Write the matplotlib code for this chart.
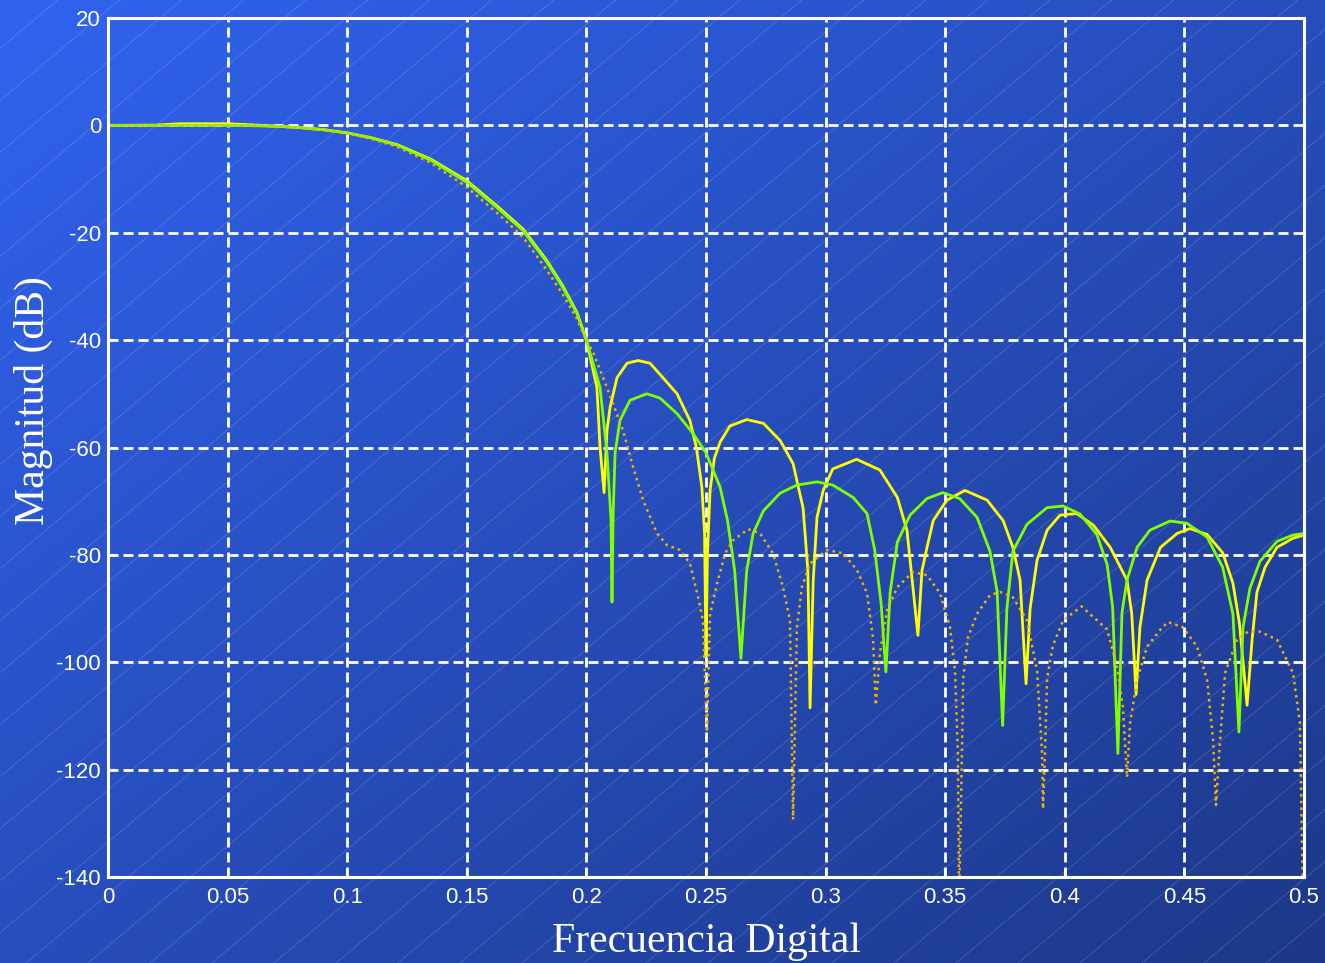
import numpy as np
import matplotlib.pyplot as plt

plt.rcParams["axes.unicode_minus"] = False

# --- data (frequency in cycles/sample, magnitude in dB) ---
freq_yellow = [0, 0.02, 0.03, 0.05, 0.06, 0.072, 0.08, 0.09, 0.1, 0.11,
               0.121, 0.135, 0.15, 0.1626, 0.1735, 0.1835, 0.19, 0.196, 0.2, 0.2044,
               0.2057, 0.2074, 0.2086, 0.2099, 0.2128, 0.217, 0.2216, 0.2266, 0.232, 0.2379,
               0.2433, 0.246, 0.2483, 0.2494, 0.25, 0.2506, 0.2517, 0.2535, 0.2559, 0.26,
               0.267, 0.274, 0.281, 0.2864, 0.2906, 0.2926, 0.2935, 0.2948, 0.2964, 0.299,
               0.303, 0.313, 0.3227, 0.33, 0.334, 0.3365, 0.3386, 0.3403, 0.3424, 0.345,
               0.3507, 0.3583, 0.3675, 0.3742, 0.3783, 0.3813, 0.3838, 0.3855, 0.3884, 0.3926,
               0.398, 0.405, 0.412, 0.419, 0.426, 0.428, 0.4298, 0.4314, 0.4344, 0.44,
               0.447, 0.4523, 0.4595, 0.466, 0.4703, 0.473, 0.4762, 0.4783, 0.4803, 0.4837,
               0.4887, 0.4954, 0.5]
mag_yellow = [0, 0.05, 0.3, 0.3, 0.1, -0.2, -0.4, -0.8, -1.4, -2.3,
              -3.6, -6.3, -10.3, -15.0, -19.3, -25.2, -29.8, -34.8, -40, -48.8,
              -60, -68.4, -56.8, -52.5, -47, -44.3, -43.8, -44.3, -47, -50,
              -55, -60, -67.5, -76, -99, -80, -68, -62, -59, -56,
              -54.8, -55.5, -58.7, -63, -71.3, -83, -108.5, -85, -73, -68,
              -64, -62.2, -64.2, -69.3, -75.4, -86, -95, -82.9, -78.6, -73.6,
              -69.8, -68, -69.8, -73.6, -78.6, -84.7, -104, -90, -81, -75.4,
              -72.6, -72.3, -74.5, -78.6, -84.7, -91, -106, -93.5, -84.7, -78.6,
              -76, -75.1, -76.2, -79.6, -85.3, -92.7, -108, -95.8, -87, -82.3,
              -78.6, -76.9, -76.3]

freq_green = [0, 0.02, 0.04, 0.05, 0.06, 0.072, 0.08, 0.09, 0.1, 0.11,
              0.121, 0.135, 0.15, 0.1626, 0.1735, 0.1835, 0.19, 0.196, 0.2, 0.2057,
              0.2086, 0.2103, 0.2107, 0.2112, 0.212, 0.214, 0.2182, 0.2253, 0.2308, 0.2379,
              0.2446, 0.25, 0.2559, 0.259, 0.262, 0.2646, 0.267, 0.2697, 0.274, 0.281,
              0.288, 0.2964, 0.303, 0.3115, 0.3173, 0.3205, 0.3232, 0.3252, 0.327, 0.33,
              0.3353, 0.3424, 0.349, 0.356, 0.3633, 0.3687, 0.3717, 0.374, 0.3758, 0.3783,
              0.3842, 0.3926, 0.3993, 0.4064, 0.4134, 0.4177, 0.42, 0.4222, 0.4239, 0.426,
              0.4302, 0.4356, 0.444, 0.451, 0.4595, 0.466, 0.4703, 0.4728, 0.4745, 0.4774,
              0.4816, 0.4887, 0.4954, 0.5]
mag_green = [0, 0, 0, 0, -0.05, -0.2, -0.4, -0.8, -1.4, -2.3,
             -3.7, -6.5, -10.6, -15.3, -19.6, -25.5, -30.1, -35, -40, -48.8,
             -61, -73.5, -88.8, -72, -61, -55, -51.2, -50, -50.8, -53.7,
             -57.4, -61, -67.4, -73.6, -83, -99.3, -83, -76, -71.8, -68.5,
             -67, -66.4, -67, -69.3, -72.3, -79, -89, -101.8, -86.9, -77.6,
             -72.6, -69.5, -68.4, -69.5, -73, -79.3, -86.8, -111.8, -90, -79.3,
             -74.3, -71.2, -70.9, -72.4, -76.2, -81.8, -89.7, -117, -90.8, -84.7,
             -78.6, -75.4, -73.7, -74.1, -76.7, -82.3, -91, -113, -93.5, -86.2,
             -81.2, -77.5, -76.3, -76]

freq_dotted = [0, 0.02, 0.04, 0.05, 0.06, 0.072, 0.08, 0.09, 0.1, 0.11,
               0.121, 0.135, 0.15, 0.1626, 0.1735, 0.1835, 0.19, 0.196, 0.2, 0.203,
               0.207, 0.2111, 0.2153, 0.2195, 0.2237, 0.2295, 0.2337, 0.2391, 0.2433, 0.2467,
               0.2487, 0.2504, 0.2517, 0.2546, 0.258, 0.2613, 0.2676, 0.2726, 0.278, 0.2822,
               0.2851, 0.2864, 0.288, 0.2901, 0.2935, 0.3006, 0.3073, 0.3131, 0.3173, 0.3198,
               0.321, 0.3227, 0.3257, 0.33, 0.3365, 0.3424, 0.3478, 0.352, 0.3541, 0.3553,
               0.3558, 0.357, 0.3575, 0.3595, 0.3633, 0.3687, 0.3729, 0.3783, 0.3842, 0.3884,
               0.3905, 0.3909, 0.3917, 0.3926, 0.395, 0.3993, 0.407, 0.4177, 0.4218, 0.4243,
               0.426, 0.4273, 0.4302, 0.4344, 0.44, 0.4431, 0.4494, 0.4553, 0.4595, 0.462,
               0.4632, 0.4649, 0.467, 0.472, 0.4766, 0.4816, 0.4887, 0.4954, 0.4983, 0.4996,
               0.5]
mag_dotted = [0, 0, 0, 0, -0.05, -0.2, -0.45, -0.85, -1.5, -2.5,
              -4, -7, -11.5, -16.3, -20.8, -27, -31.4, -36, -40, -42.5,
              -47, -51.8, -56.8, -63.6, -69.8, -76, -78.2, -79.1, -81.6, -87.9,
              -92.2, -113, -91, -85.4, -79.7, -77.3, -75.2, -76, -79.7, -86,
              -92.2, -129.3, -93.5, -86, -81.6, -79.1, -79.7, -82.8, -87.1, -95.4,
              -108, -98.3, -90.3, -86, -83.2, -83.8, -87.1, -93.5, -101.5, -117,
              -145, -117, -103, -95.4, -91, -87.5, -86.9, -87.9, -92.2, -101.5,
              -117, -127.3, -117, -103, -96.9, -92.2, -89.6, -93.9, -100.8, -108.3,
              -121.4, -111.3, -103.3, -97.1, -93.9, -92.5, -93.5, -97.1, -103.3, -114.5,
              -126.6, -114.5, -102, -95.8, -94.3, -94.3, -95.8, -102, -111.3, -145,
              -145]

xticks = [0, 0.05, 0.1, 0.15, 0.2, 0.25, 0.3, 0.35, 0.4, 0.45, 0.5]
xtick_labels = ["0", "0.05", "0.1", "0.15", "0.2", "0.25", "0.3", "0.35", "0.4", "0.45", "0.5"]
yticks = [20, 0, -20, -40, -60, -80, -100, -120, -140]

W, H = 1325, 963
fig = plt.figure(figsize=(W / 100, H / 100), dpi=100)

# slide-like gradient background with faint diagonal hairlines
bg = fig.add_axes([0, 0, 1, 1], zorder=0)
bg.set_xlim(0, W)
bg.set_ylim(H, 0)
bg.axis("off")
gy, gx = np.mgrid[0:1:120j, 0:1:160j]
t = (gx + gy) / 2
c0 = np.array([49, 99, 240]) / 255
c1 = np.array([29, 56, 136]) / 255
img = c0[None, None, :] * (1 - t[..., None]) + c1[None, None, :] * t[..., None]
bg.imshow(img, extent=[0, W, H, 0], aspect="auto", interpolation="bilinear")
slope = np.tan(np.radians(40))
for c in range(-1400, W + 100, 62):
    bg.plot([c, c + H / slope], [H, 0], color="white", lw=0.5, alpha=0.2)

ax = fig.add_axes([108 / W, 1 - 877 / H, 1196 / W, 859 / H], zorder=1)
ax.patch.set_alpha(0)

ax.plot(freq_yellow, mag_yellow, color="#ffff00", lw=2.0)
ax.plot(freq_green, mag_green, color="#7fff00", lw=2.0)
ax.plot(freq_dotted, mag_dotted, color="#f2b400", lw=1.8, linestyle=":")

ax.set_xlim(0, 0.5)
ax.set_ylim(-140, 20)
ax.set_xticks(xticks)
ax.set_xticklabels(xtick_labels)
ax.set_yticks(yticks)
ax.grid(True, color="white", linestyle=(0, (3.6, 1.8)), lw=2.0)
ax.set_axisbelow(True)
for s in ax.spines.values():
    s.set_color("white")
    s.set_linewidth(2.2)
ax.tick_params(direction="in", length=6, width=1.5, colors="white", labelsize=16)
ax.tick_params(axis="x", pad=7)
ax.tick_params(axis="y", pad=5)
for lab in ax.get_xticklabels() + ax.get_yticklabels():
    lab.set_family("Liberation Sans")

fig.text(706 / W, 1 - 952 / H, "Frecuencia Digital", color="white", fontsize=30,
         family="Liberation Serif", ha="center", va="baseline")
fig.text(33 / W, 1 - 401 / H, "Magnitud (dB)", color="white", fontsize=30,
         family="Liberation Serif", ha="center", va="center", rotation=90)

fig.savefig("out.png", dpi=100)
